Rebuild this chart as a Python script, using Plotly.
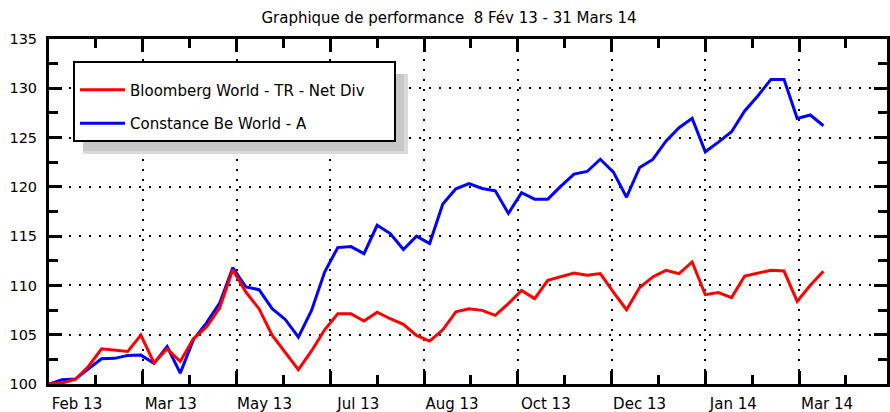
import plotly.graph_objects as go
import pandas as pd

# ---------------- data ----------------
start_date = "2013-02-08"
n_weeks = 60
bloomberg = [100.0, 100.1, 100.46, 101.78, 103.57, 103.4, 103.3, 104.96, 102.15, 103.57,
             102.29, 104.59, 105.78, 107.7, 111.6, 109.33, 107.64, 104.95, 103.23, 101.45,
             103.35, 105.5, 107.13, 107.13, 106.38, 107.28, 106.62, 106.05, 104.93, 104.35,
             105.5, 107.33, 107.64, 107.47, 106.96, 108.15, 109.5, 108.66, 110.52, 110.86,
             111.26, 111.03, 111.2, 109.33, 107.54, 109.78, 110.86, 111.53, 111.2, 112.38,
             109.06, 109.27, 108.76, 110.96, 111.26, 111.53, 111.46, 108.38, 110.01, 111.43]
constance = [100.0, 100.43, 100.5, 101.5, 102.56, 102.6, 102.9, 102.93, 102.1, 103.8,
             101.1, 104.5, 106.2, 108.2, 111.8, 109.84, 109.57, 107.64, 106.55, 104.76,
             107.47, 111.36, 113.84, 113.94, 113.23, 116.1, 115.26, 113.64, 114.99, 114.25,
             118.25, 119.8, 120.34, 119.84, 119.6, 117.3, 119.4, 118.75, 118.75, 120.07,
             121.29, 121.56, 122.8, 121.5, 118.95, 121.97, 122.78, 124.64, 126.0, 126.95,
             123.56, 124.54, 125.59, 127.7, 129.22, 130.9, 130.9, 126.95, 127.29, 126.2]
series_names = ["Bloomberg World - TR - Net Div", "Constance Be World - A"]
tick_labels = ["Feb 13", "Mar 13", "May 13", "Jul 13", "Aug 13", "Oct 13", "Dec 13", "Jan 14", "Mar 14"]
tick_step_days = 50
axis_span_days = 446.9
y_ticks = [100, 105, 110, 115, 120, 125, 130, 135]
title_text = "Graphique de performance\u00a0\u00a08 Fév 13 - 31 Mars 14"

# ---------------- derived ----------------
start = pd.Timestamp(start_date)
dates = pd.date_range(start, periods=n_weeks, freq="7D")
tick_dates = pd.date_range(start, periods=len(tick_labels), freq=f"{tick_step_days}D")
x_end = start + pd.Timedelta(days=axis_span_days)

FONT = "DejaVu Sans, Verdana, sans-serif"

fig = go.Figure()
fig.add_trace(go.Scatter(x=dates, y=constance, mode="lines", name=series_names[1],
                         line=dict(color="#0000ff", width=3), legendgroup="b", legendrank=2))
fig.add_trace(go.Scatter(x=dates, y=bloomberg, mode="lines", name=series_names[0] + "\u00a0" * 5,
                         line=dict(color="#ff0000", width=3), legendgroup="a", legendrank=1))

axis_common = dict(
    showline=True, linecolor="black", linewidth=3, mirror="allticks",
    ticks="inside", ticklen=13, tickwidth=3, tickcolor="black",
    showgrid=True, gridcolor="black", gridwidth=2, griddash="2px,8px",
    zeroline=False, automargin=False,
)

fig.update_xaxes(
    type="date", range=[start, x_end],
    tickmode="array", tickvals=tick_dates, ticktext=tick_labels,
    ticklabelshift=28, ticklabelstandoff=4,
    tickfont=dict(family=FONT, size=15, color="black"),
    minor=dict(ticks="inside", ticklen=9, tickwidth=3, tickcolor="black",
               dtick=tick_step_days * 86400000 / 2, tick0=start, showgrid=False),
    **axis_common,
)
fig.update_yaxes(
    range=[100, 135], tickmode="array", tickvals=y_ticks,
    ticklabelstandoff=6,
    tickfont=dict(family=FONT, size=14.5, color="black"),
    minor=dict(ticks="inside", ticklen=9, tickwidth=3, tickcolor="black",
               dtick=2.5, showgrid=False),
    **axis_common,
)

W, H = 890, 412
L, R, T, B = 49, 3, 39, 28
pw, ph = W - L - R, H - T - B
def px2paper(x, y):
    return (x - L) / pw, (H - B - y) / ph

# legend drop shadow
shadow = [((83, 74), (408, 154), "#dadada"), ((83, 74), (404, 151), "#c8c8c8")]
for (x0, y0), (x1, y1), col in shadow:
    a0, b0 = px2paper(x0, y0)
    a1, b1 = px2paper(x1, y1)
    fig.add_shape(type="rect", xref="paper", yref="paper", x0=a0, x1=a1, y0=b1, y1=b0,
                  fillcolor=col, line=dict(width=0), layer="above")

lx, ly = px2paper(73, 61)
fig.update_layout(
    width=W, height=H,
    margin=dict(l=L, r=R, t=T, b=B, pad=0),
    paper_bgcolor="white", plot_bgcolor="white",
    font=dict(family=FONT, size=15, color="black"),
    title=dict(text=title_text, x=449 / W, xref="container", xanchor="center",
               y=1 - 18 / H, yref="container", yanchor="middle",
               font=dict(family=FONT, size=15, color="black")),
    legend=dict(x=lx, y=ly, xanchor="left", yanchor="top",
                bgcolor="white", bordercolor="black", borderwidth=2,
                font=dict(family=FONT, size=15, color="black"),
                title=dict(text="\u00a0", font=dict(size=8)),
                traceorder="grouped", tracegroupgap=11, itemwidth=45),
    showlegend=True,
)

fig.write_html("out.html", config={"displayModeBar": False},
               post_script="document.body.style.margin='0px';document.body.style.overflow='hidden';")
